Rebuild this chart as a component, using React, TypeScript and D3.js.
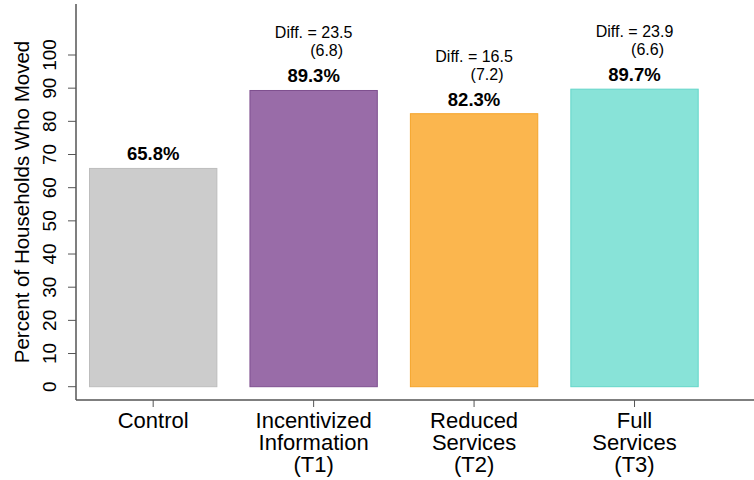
import React from "react";
import * as d3 from "d3";

const categories = ["Control", "Incentivized Information (T1)", "Reduced Services (T2)", "Full Services (T3)"];
const categoryLines = [["Control"], ["Incentivized", "Information", "(T1)"], ["Reduced", "Services", "(T2)"], ["Full", "Services", "(T3)"]];
const values = [65.8, 89.3, 82.3, 89.7];
const valueLabels = ["65.8%", "89.3%", "82.3%", "89.7%"];
const diffs = [null, "23.5", "16.5", "23.9"];
const ses = [null, "(6.8)", "(7.2)", "(6.6)"];
const yTicks = [0, 10, 20, 30, 40, 50, 60, 70, 80, 90, 100];
const fills = ["#CCCCCC", "#996CA8", "#FBB64E", "#88E3D8"];
const strokes = ["#BDBDBD", "#7E4F8F", "#F5A42A", "#63D6C9"];

const W = 754;
const H = 480;
const FONT = "'Liberation Sans', Arial, sans-serif";

export default function App() {
  const x = d3.scaleBand<string>().domain(categories).range([89, 698.7]).paddingInner(0.2).paddingOuter(0);
  const y = d3.scaleLinear().domain([0, 100]).range([386.7, 55]);
  const axisX = 76;
  const axisY = 400;
  const axisColor = "#555555";

  return (
    <div style={{ position: "fixed", left: 0, top: 0, width: W, height: H, background: "#fff" }}>
      <svg width={W} height={H} style={{ display: "block", fontFamily: FONT }}>
        <rect x={0} y={0} width={W} height={H} fill="#ffffff" />
        {categories.map((c, i) => {
          const bx = x(c)!;
          const by = y(values[i]);
          return (
            <rect key={c} x={bx + 0.5} y={by} width={x.bandwidth() - 1} height={y(0) - by}
              fill={fills[i]} stroke={strokes[i]} strokeWidth={1} />
          );
        })}
        {categories.map((c, i) => {
          const cx = x(c)! + x.bandwidth() / 2;
          const top = y(values[i]);
          return (
            <g key={"lab" + c}>
              <text x={cx} y={top - 8} textAnchor="middle" fontWeight="bold" fontSize={18.5} fill="#000">{valueLabels[i]}</text>
              {diffs[i] && (
                <>
                  <text x={cx} y={top - 52} textAnchor="middle" fontSize={16} fill="#000">{"Diff. = " + diffs[i]}</text>
                  <text x={cx + 13} y={top - 34} textAnchor="middle" fontSize={16} fill="#000">{ses[i]}</text>
                </>
              )}
            </g>
          );
        })}
        {/* axes */}
        <line x1={axisX} x2={axisX} y1={4} y2={axisY} stroke={axisColor} strokeWidth={1.5} />
        <line x1={axisX} x2={W} y1={axisY} y2={axisY} stroke={axisColor} strokeWidth={1.5} />
        {yTicks.map((t) => (
          <g key={"yt" + t}>
            <line x1={axisX - 8} x2={axisX} y1={y(t)} y2={y(t)} stroke={axisColor} strokeWidth={1} />
            <text transform={`translate(${56},${y(t)}) rotate(-90)`} textAnchor="middle" fontSize={19} fill="#000">{t}</text>
          </g>
        ))}
        {categories.map((c, i) => {
          const cx = x(c)! + x.bandwidth() / 2;
          return (
            <g key={"xt" + c}>
              <line x1={cx} x2={cx} y1={axisY} y2={axisY + 7} stroke={axisColor} strokeWidth={1} />
              {categoryLines[i].map((ln, j) => (
                <text key={j} x={cx} y={428 + j * 22} textAnchor="middle" fontSize={22} fill="#000">{ln}</text>
              ))}
            </g>
          );
        })}
        <text transform={`translate(${29},${202}) rotate(-90)`} textAnchor="middle" fontSize={20.5} fill="#000">
          Percent of Households Who Moved
        </text>
      </svg>
    </div>
  );
}
